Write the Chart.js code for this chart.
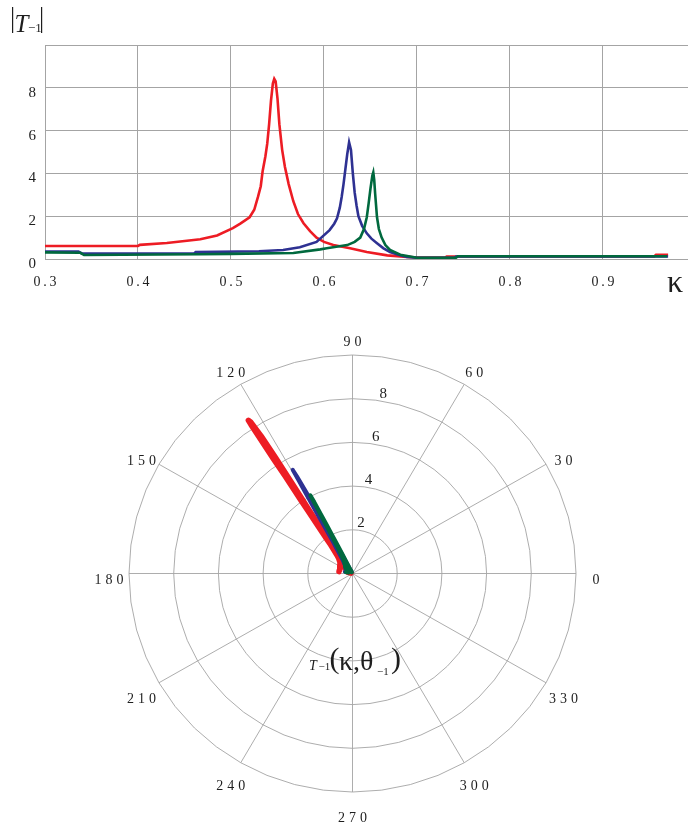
<!DOCTYPE html>
<html>
<head>
<meta charset="utf-8">
<script src="https://cdn.jsdelivr.net/npm/chart.js@4/dist/chart.umd.min.js"></script>
<style>
  body { margin: 0; background: #fff; }
  canvas { display: block; }
</style>
</head>
<body>
<canvas id="top" width="688" height="300"></canvas>
<canvas id="polar" width="688" height="531"></canvas>
<script>
// ticks
const xTicks = [0.3, 0.4, 0.5, 0.6, 0.7, 0.8, 0.9]
const yTicks = [0, 2, 4, 6, 8, 10]
const yLabels = [0, 2, 4, 6, 8]
const ringValues = [2, 4, 6, 8, 10]
const ringLabels = [2, 4, 6, 8]
const angleTicks = [0, 30, 60, 90, 120, 150, 180, 210, 240, 270, 300, 330]

// red curve: kappa, |T-1|, theta-1 (deg)
const redK = [0.300, 0.400, 0.402, 0.431, 0.467, 0.485, 0.502, 0.510, 0.520, 0.525, 0.529, 0.532, 0.534, 0.537, 0.539, 0.541, 0.543, 0.545, 0.5465, 0.548, 0.550, 0.552, 0.555, 0.558, 0.562, 0.567, 0.572, 0.578, 0.585, 0.592, 0.600, 0.610, 0.628, 0.646, 0.668, 0.689, 0.700, 0.730, 0.732, 0.955, 0.957, 0.970]
const redT = [0.61, 0.61, 0.66, 0.75, 0.92, 1.1, 1.44, 1.65, 1.95, 2.3, 2.9, 3.4, 4.1, 4.8, 5.4, 6.3, 7.4, 8.2, 8.42, 8.3, 7.5, 6.3, 5.1, 4.3, 3.5, 2.7, 2.1, 1.67, 1.3, 1.0, 0.8, 0.65, 0.5, 0.33, 0.17, 0.1, 0.07, 0.07, 0.12, 0.12, 0.2, 0.2]
const redTheta = [172, 165, 150, 138, 132, 129.5, 127.5, 126.8, 126.2, 125.8, 125.2, 124.9, 124.6, 124.3, 124.1, 124, 123.8, 123.7, 123.6, 123.3, 123, 123, 123.2, 123.4, 123.7, 124, 124.4, 125, 126, 128, 131, 135, 140, 150, 160, 165, 165, 165, 165, 165, 165, 165]

// blue curve
const blueK = [0.300, 0.336, 0.340, 0.460, 0.462, 0.530, 0.556, 0.574, 0.592, 0.606, 0.611, 0.614, 0.617, 0.619, 0.621, 0.623, 0.625, 0.627, 0.629, 0.631, 0.633, 0.635, 0.637, 0.641, 0.646, 0.651, 0.657, 0.664, 0.671, 0.680, 0.689, 0.700, 0.740, 0.742, 0.970]
const blueT = [0.35, 0.35, 0.25, 0.25, 0.32, 0.36, 0.42, 0.55, 0.8, 1.35, 1.65, 1.9, 2.4, 2.9, 3.5, 4.2, 4.9, 5.45, 5.1, 4.0, 3.1, 2.5, 2.0, 1.55, 1.2, 0.95, 0.74, 0.5, 0.33, 0.2, 0.1, 0.06, 0.06, 0.12, 0.12]
const blueTheta = [167, 167, 165, 160, 155, 148, 138, 130, 125, 122, 121.2, 120.8, 120.4, 120.1, 119.9, 119.7, 119.5, 119.4, 119.2, 119, 118.8, 118.7, 118.6, 118.5, 118.4, 118.3, 118.2, 118.2, 118.2, 118.2, 118.2, 118.2, 118.2, 118.2, 118.2]

// green curve
const greenK = [0.300, 0.338, 0.342, 0.467, 0.500, 0.567, 0.596, 0.603, 0.625, 0.633, 0.639, 0.643, 0.646, 0.648, 0.650, 0.652, 0.653, 0.654, 0.655, 0.656, 0.657, 0.659, 0.662, 0.666, 0.671, 0.682, 0.700, 0.742, 0.744, 0.969]
const greenT = [0.31, 0.29, 0.19, 0.22, 0.24, 0.28, 0.45, 0.5, 0.65, 0.8, 1.0, 1.4, 1.95, 2.6, 3.3, 3.9, 4.05, 3.7, 3.05, 2.5, 1.95, 1.4, 1.0, 0.65, 0.42, 0.2, 0.06, 0.06, 0.13, 0.13]
const greenTheta = [168, 168, 168, 165, 160, 150, 138, 132, 125, 122, 120.5, 119, 118.3, 118, 117.9, 117.8, 117.8, 117.6, 117.5, 117.4, 117.3, 117.2, 117.1, 117, 117, 117, 117, 117, 117, 117]

const RED = '#ED1C24'
const BLUE = '#2E3192'
const GREEN = '#00693E'
const GRID = '#a4a4a4'
const INK = '#1e1e1e'
const SERIF = '"Liberation Serif", "Times New Roman", serif'

Chart.defaults.font.family = SERIF

// order: higher is drawn first, so green ends up on top
function lineSet(ks, ts, color, order) {
  return {
    data: ks.map((k, i) => ({ x: k, y: ts[i] })),
    borderColor: color, showLine: true, pointRadius: 0, borderWidth: 2.6, tension: 0, order: order
  }
}

function polarSet(ts, th, color, w, order) {
  return {
    data: ts.map((r, i) => {
      const a = th[i] * Math.PI / 180
      return { x: r * Math.cos(a), y: r * Math.sin(a) }
    }),
    borderColor: color, showLine: true, pointRadius: 0, borderWidth: w, tension: 0,
    borderCapStyle: 'round', borderJoinStyle: 'round', order: order
  }
}

// |T-1| and kappa labels on the top chart
const topLabels = {
  id: 'topLabels',
  afterDraw(chart) {
    const ctx = chart.ctx
    ctx.save()
    ctx.fillStyle = INK
    ctx.fillRect(12, 7, 1.2, 26)
    ctx.fillRect(41, 7, 1.2, 26)
    ctx.textBaseline = 'alphabetic'
    ctx.textAlign = 'left'
    ctx.font = 'italic 25px ' + SERIF
    ctx.fillText('T', 14.5, 31.5)
    ctx.font = '13px ' + SERIF
    ctx.fillText('\u22121', 28, 31.5)
    ctx.font = '32px ' + SERIF
    ctx.fillText('\u03ba', 667, 292)
    ctx.restore()
  }
}

new Chart(document.getElementById('top'), {
  type: 'scatter',
  data: {
    datasets: [
      lineSet(redK, redT, RED, 3),
      lineSet(blueK, blueT, BLUE, 2),
      lineSet(greenK, greenT, GREEN, 1)
    ]
  },
  options: {
    responsive: false,
    animation: false,
    devicePixelRatio: 1,
    layout: { padding: { top: 45, left: 0, right: 0, bottom: 0 } },
    plugins: { legend: { display: false }, tooltip: { enabled: false } },
    scales: {
      x: {
        type: 'linear', min: 0.3, max: 0.9914,
        afterBuildTicks: s => { s.ticks = xTicks.map(v => ({ value: v })) },
        afterFit: s => { s.height = 41 },
        grid: { color: GRID, drawTicks: false },
        border: { color: GRID },
        ticks: {
          padding: 15, color: INK, font: { size: 14 }, maxRotation: 0, autoSkip: false,
          callback: v => v.toFixed(1).split('').join('\u2009')
        }
      },
      y: {
        min: 0, max: 10,
        afterBuildTicks: s => { s.ticks = yTicks.map(v => ({ value: v })) },
        afterFit: s => { s.width = 45 },
        grid: { color: GRID, drawTicks: false },
        border: { color: GRID },
        ticks: {
          padding: 9, labelOffset: 5, color: INK, font: { size: 15 },
          callback: v => yLabels.includes(v) ? String(v) : ''
        }
      }
    }
  },
  plugins: [topLabels]
})

function spaced(ctx, s, cx, cy, gap) {
  const chars = [...s]
  const ws = chars.map(c => ctx.measureText(c).width)
  const total = ws.reduce((a, b) => a + b, 0) + gap * (chars.length - 1)
  let x = cx - total / 2
  ctx.textAlign = 'left'
  ctx.textBaseline = 'middle'
  chars.forEach((c, i) => { ctx.fillText(c, x, cy); x += ws[i] + gap })
}

// polar grid drawn through the chart's own x / y scales
const polarGrid = {
  id: 'polarGrid',
  beforeDatasetsDraw(chart) {
    const ctx = chart.ctx
    const sx = chart.scales.x, sy = chart.scales.y
    const px = (r, deg) => sx.getPixelForValue(r * Math.cos(deg * Math.PI / 180))
    const py = (r, deg) => sy.getPixelForValue(r * Math.sin(deg * Math.PI / 180))
    ctx.save()
    ctx.strokeStyle = GRID
    ctx.lineWidth = 0.9
    ringValues.forEach(r => {
      ctx.beginPath()
      for (let a = 0; a <= 360; a += 7.5) {
        if (a === 0) ctx.moveTo(px(r, a), py(r, a))
        else ctx.lineTo(px(r, a), py(r, a))
      }
      ctx.closePath()
      ctx.stroke()
    })
    const rMax = ringValues[ringValues.length - 1]
    angleTicks.forEach(a => {
      ctx.beginPath()
      ctx.moveTo(px(0, a), py(0, a))
      ctx.lineTo(px(rMax, a), py(rMax, a))
      ctx.stroke()
    })
    ctx.fillStyle = INK
    ctx.font = '14px ' + SERIF
    angleTicks.forEach(a => {
      const x = sx.getPixelForValue(10.9 * Math.cos(a * Math.PI / 180))
      const y = sy.getPixelForValue(10.9 * Math.sin(a * Math.PI / 180) - 0.3)
      spaced(ctx, String(a), x, y, 4)
    })
    ctx.font = '15px ' + SERIF
    ringLabels.forEach(r => {
      spaced(ctx, String(r), px(r + 0.33, 80.5), py(r + 0.33, 80.5), 0)
    })
    ctx.restore()
  },
  afterDatasetsDraw(chart) {
    const ctx = chart.ctx
    ctx.save()
    ctx.fillStyle = INK
    ctx.textAlign = 'left'
    ctx.textBaseline = 'alphabetic'
    ctx.font = 'italic 14px ' + SERIF
    ctx.fillText('T', 309, 370)
    ctx.font = '11px ' + SERIF
    ctx.fillText('\u22121', 318.5, 370)
    ctx.font = '30px ' + SERIF
    ctx.fillText('(', 329.5, 368)
    ctx.font = '28px ' + SERIF
    ctx.fillText('\u03ba,\u03b8', 339, 370)
    ctx.font = '11px ' + SERIF
    ctx.fillText('\u22121', 377, 375)
    ctx.font = '30px ' + SERIF
    ctx.fillText(')', 391, 368)
    ctx.restore()
  }
}

new Chart(document.getElementById('polar'), {
  type: 'scatter',
  data: {
    datasets: [
      polarSet(redT, redTheta, RED, 5.5, 3),
      polarSet(blueT, blueTheta, BLUE, 4, 2),
      polarSet(greenT, greenTheta, GREEN, 4, 1)
    ]
  },
  options: {
    responsive: false,
    animation: false,
    devicePixelRatio: 1,
    layout: { padding: { top: 55, left: 129, right: 112, bottom: 39 } },
    plugins: { legend: { display: false }, tooltip: { enabled: false } },
    scales: {
      x: { type: 'linear', min: -10, max: 10, display: false },
      y: { type: 'linear', min: -10, max: 10, display: false }
    }
  },
  plugins: [polarGrid]
})
</script>
</body>
</html>
